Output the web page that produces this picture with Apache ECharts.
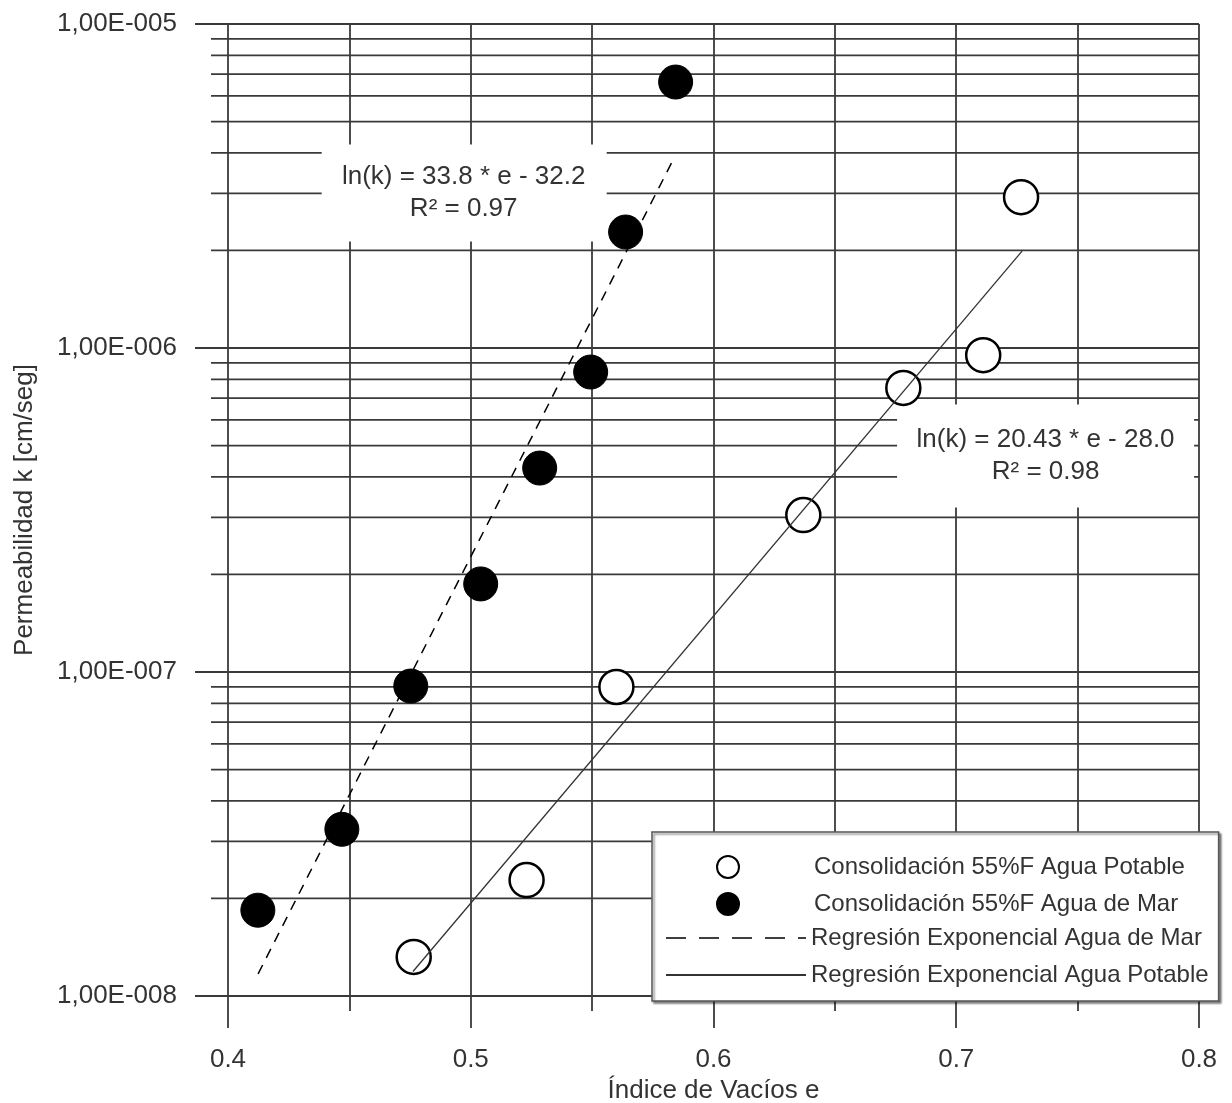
<!DOCTYPE html>
<html>
<head>
<meta charset="utf-8">
<script src="https://cdn.jsdelivr.net/npm/echarts@6/dist/echarts.min.js"></script>
<style>
html,body{margin:0;padding:0;background:#fff;}
#c{width:1232px;height:1103px;}
</style>
</head>
<body>
<div id="c"></div>
<script>
// ---- data ----
const potableX = [0.4765, 0.5230, 0.5600, 0.6370, 0.6782, 0.7111, 0.7267];
const potableK = [1.32e-8, 2.28e-8, 8.99e-8, 3.05e-7, 7.53e-7, 9.50e-7, 2.92e-6];
const marX = [0.4123, 0.4469, 0.4753, 0.5041, 0.5284, 0.5494, 0.5638, 0.5844];
const marK = [1.84e-8, 3.27e-8, 9.05e-8, 1.87e-7, 4.26e-7, 8.43e-7, 2.28e-6, 6.62e-6];
const fitMarX = [0.4124, 0.5833];
const fitMarK = [1.17e-8, 3.80e-6];
const fitPotX = [0.4762, 0.7271];
const fitPotK = [1.19e-8, 1.99e-6];
const yTickExp = [-8, -7, -6, -5];
const yTickLabels = ['1,00E-008', '1,00E-007', '1,00E-006', '1,00E-005'];
const yMinor = [2e-8,3e-8,4e-8,5e-8,6e-8,7e-8,8e-8,9e-8,
                2e-7,3e-7,4e-7,5e-7,6e-7,7e-7,8e-7,9e-7,
                2e-6,3e-6,4e-6,5e-6,6e-6,7e-6,8e-6,9e-6];
const eqLines = [['ln(k) = 33.8 * e - 32.2', 'R\u00B2 = 0.97'],
                 ['ln(k) = 20.43 * e - 28.0', 'R\u00B2 = 0.98']];
const eqAnchors = [[0.4973, 3.01e-6], [0.7368, 4.64e-7]];
const names = ['Consolidación 55%F Agua Potable', 'Consolidación 55%F Agua de Mar',
               'Regresión Exponencial Agua de Mar', 'Regresión Exponencial Agua Potable'];
const xMin = 0.4, xMax = 0.8;

const FONT = "'Liberation Sans', Arial, sans-serif";
const TXT = '#333';
const GRID = '#3a3a3a';

const chart = echarts.init(document.getElementById('c'), null, {renderer: 'canvas'});

const hiddenSym = {color: 'rgba(0,0,0,0)', borderWidth: 0, opacity: 0};

const option = {
  backgroundColor: '#fff',
  animation: false,
  textStyle: {fontFamily: FONT, color: TXT},
  grid: {left: 228, right: 33, top: 24, bottom: 107, containLabel: false, outerBoundsMode: 'none'},
  xAxis: {
    type: 'value', min: xMin, max: xMax, interval: 0.1,
    name: 'Índice de Vacíos e', nameLocation: 'middle', nameGap: 79,
    nameTextStyle: {fontSize: 26, color: TXT, fontFamily: FONT},
    axisLine: {show: false},
    axisTick: {show: true, length: 32, lineStyle: {color: GRID, width: 1.8}},
    minorTick: {show: true, splitNumber: 2, length: 15, lineStyle: {color: GRID, width: 1.8}},
    axisLabel: {fontSize: 26, color: TXT, margin: 51, fontFamily: FONT,
      formatter: v => v.toFixed(1)},
    splitLine: {show: true, lineStyle: {color: GRID, width: 1.8}},
    minorSplitLine: {show: true, lineStyle: {color: GRID, width: 1.8}}
  },
  yAxis: {
    type: 'log', logBase: 10, min: 1e-8, max: 1e-5,
    name: 'Permeabilidad k [cm/seg]', nameLocation: 'middle', nameGap: 190,
    nameTextStyle: {fontSize: 26, color: TXT, fontFamily: FONT},
    axisLine: {show: false},
    axisTick: {show: true, length: 33, lineStyle: {color: GRID, width: 1.8}},
    axisLabel: {fontSize: 26, color: TXT, margin: 51, fontFamily: FONT,
      formatter: v => {
        const e = Math.round(Math.log10(v));
        const i = yTickExp.indexOf(e);
        return i >= 0 ? yTickLabels[i] : '';
      }},
    splitLine: {show: true, lineStyle: {color: GRID, width: 1.8}}
  },
  legend: [
    {
      data: [
        {name: names[2], lineStyle: {type: [20, 13], width: 1.6, color: '#000'}, itemStyle: hiddenSym},
        {name: names[3], itemStyle: hiddenSym}
      ],
      orient: 'vertical', left: 652, top: 832, align: 'left',
      padding: [94, 10, 14, 13],
      itemWidth: 140, itemHeight: 22, itemGap: 13,
      backgroundColor: '#fff', borderColor: '#555', borderWidth: 1.5,
      shadowColor: 'rgba(0,0,0,0.45)', shadowOffsetX: 2, shadowOffsetY: 2, shadowBlur: 2,
      textStyle: {fontSize: 24, color: TXT, fontFamily: FONT},
      selectedMode: false, z: 20
    },
    {
      data: [{name: names[0], icon: 'circle'}, {name: names[1], icon: 'circle'}],
      orient: 'vertical', left: 716, top: 855, padding: 0, align: 'left',
      itemWidth: 162, itemHeight: 22, itemGap: 13,
      textStyle: {fontSize: 24, color: TXT, fontFamily: FONT},
      selectedMode: false, z: 21
    }
  ],
  series: [
    {
      type: 'custom', name: 'minorGrid', silent: true, z: 1,
      data: yMinor.map(v => [xMin, v]),
      encode: {x: 0, y: 1},
      clip: false,
      renderItem: (params, api) => {
        const v = api.value(1);
        const p0 = api.coord([xMin, v]);
        const p1 = api.coord([xMax, v]);
        return {type: 'line', shape: {x1: p0[0] - 17, y1: p0[1], x2: p1[0], y2: p1[1]},
                style: {stroke: GRID, lineWidth: 1.8}};
      }
    },
    {
      type: 'scatter', name: 'eq', silent: true, z: 2,
      symbolSize: 0,
      itemStyle: {opacity: 1},
      data: eqAnchors.map((p, i) => ({value: p, label: {
        show: true, position: 'inside',
        formatter: eqLines[i].join('\n'),
        width: i === 0 ? 252 : 265,
        padding: i === 0 ? [16, 17, 17, 16] : [24, 16, 15, 16]
      }})),
      label: {fontSize: 26, lineHeight: 32, color: TXT, fontFamily: FONT, align: 'center',
              backgroundColor: '#ffffff', opacity: 1, textBorderWidth: 0}
    },
    {
      type: 'scatter', name: names[0], z: 3, symbol: 'circle', symbolSize: 34,
      itemStyle: {color: '#fff', borderColor: '#000', borderWidth: 2.5, opacity: 1},
      data: potableX.map((x, i) => [x, potableK[i]])
    },
    {
      type: 'scatter', name: names[1], z: 3, symbol: 'circle', symbolSize: 34,
      itemStyle: {color: '#000', borderColor: '#000', borderWidth: 1, opacity: 1},
      data: marX.map((x, i) => [x, marK[i]])
    },
    {
      type: 'line', name: names[2], z: 4, symbol: 'none', showSymbol: false,
      lineStyle: {color: '#000', width: 1.5, type: [10, 8]},
      itemStyle: {color: '#000'},
      data: fitMarX.map((x, i) => [x, fitMarK[i]])
    },
    {
      type: 'line', name: names[3], z: 4, symbol: 'none', showSymbol: false,
      lineStyle: {color: '#333', width: 1.3, type: 'solid'},
      itemStyle: {color: '#333'},
      data: fitPotX.map((x, i) => [x, fitPotK[i]])
    }
  ]
};
chart.setOption(option);
</script>
</body>
</html>
